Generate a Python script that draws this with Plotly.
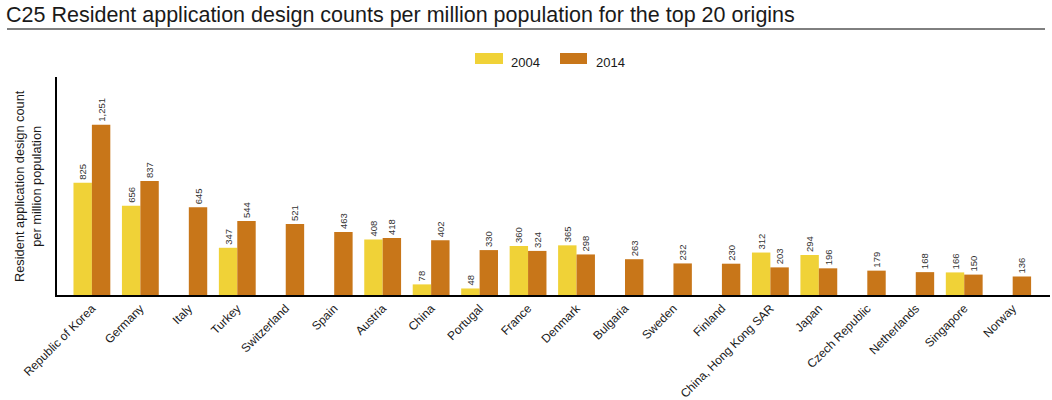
import plotly.graph_objects as go

categories = ["Republic of Korea", "Germany", "Italy", "Turkey", "Switzerland", "Spain",
              "Austria", "China", "Portugal", "France", "Denmark", "Bulgaria", "Sweden",
              "Finland", "China, Hong Kong SAR", "Japan", "Czech Republic", "Netherlands",
              "Singapore", "Norway"]
values_2004 = [825, 656, None, 347, None, None, 408, 78, 48, 360, 365, None, None, None,
               312, 294, None, None, 166, None]
values_2014 = [1251, 837, 645, 544, 521, 463, 418, 402, 330, 324, 298, 263, 232, 230,
               203, 196, 179, 168, 150, 136]
series_names = ["2004", "2014"]
colors = ["#F0D237", "#C87619"]

title_text = "C25 Resident application design counts per million population for the top 20 origins"
y_title = "Resident application design count<br>per million population"

SANS = "Liberation Sans, Arial, sans-serif"

fig = go.Figure()
for name, vals, col in zip(series_names, [values_2004, values_2014], colors):
    fig.add_trace(go.Bar(
        x=categories, y=vals, name=name, marker_color=col, marker_line_width=0,
        texttemplate="%{y:,}", textposition="outside", textangle=-90,
        constraintext="none",
        textfont=dict(family=SANS, size=9.5, color="#333333"),
        cliponaxis=False, showlegend=False,
    ))

fig.update_layout(
    width=1052, height=400,
    margin=dict(l=57, r=2, t=77, b=105, autoexpand=False),
    paper_bgcolor="white", plot_bgcolor="white",
    barmode="group", bargap=0.24, bargroupgap=0,
    font=dict(family=SANS, color="#1a1a1a"),
)
fig.update_xaxes(
    range=[-0.72, 19.77], tickangle=-45, showline=True, linecolor="black", linewidth=1.5,
    ticks="", tickfont=dict(family=SANS, size=12, color="#1a1a1a"), showgrid=False,
    automargin=False,
)
fig.update_yaxes(
    range=[0, 1602], showline=True, linecolor="black", linewidth=1.5, showticklabels=False,
    ticks="", showgrid=False, zeroline=False, automargin=False,
)

# y-axis title
fig.add_annotation(
    xref="paper", yref="paper", x=-29 / 993, y=0.5, text=y_title, textangle=-90,
    showarrow=False, xanchor="center", yanchor="middle",
    font=dict(family=SANS, size=12.8, color="#1a1a1a"),
)
# title
fig.add_annotation(
    xref="paper", yref="paper", x=-50 / 993, y=1 + (77 - 15) / 218, text=title_text,
    showarrow=False, xanchor="left", yanchor="middle", xshift=-3,
    font=dict(family=SANS, size=21.5, color="#1a1a1a"),
)
# title rule
fig.add_shape(type="line", xref="paper", yref="paper",
              x0=-50 / 993, x1=(1045 - 57) / 993, y0=1 + (77 - 29) / 218, y1=1 + (77 - 29) / 218,
              line=dict(color="black", width=1))

# custom legend
leg_items = [(475, 503, 509), (560, 587, 594)]
for (sx0, sx1, tx), name, col in zip(leg_items, series_names, colors):
    fig.add_shape(type="rect", xref="paper", yref="paper",
                  x0=(sx0 - 57) / 993, x1=(sx1 - 57) / 993,
                  y0=1 + (77 - 64) / 218, y1=1 + (77 - 53) / 218,
                  fillcolor=col, line_width=0)
    fig.add_annotation(xref="paper", yref="paper", x=(tx - 57) / 993, y=1 + (77 - 62.5) / 218,
                       text=name, showarrow=False, xanchor="left", yanchor="middle",
                       font=dict(family=SANS, size=13, color="#1a1a1a"))

fig.write_html("out.html", config={"displayModeBar": False},
               post_script="document.body.style.margin='0';document.body.style.padding='0';")
